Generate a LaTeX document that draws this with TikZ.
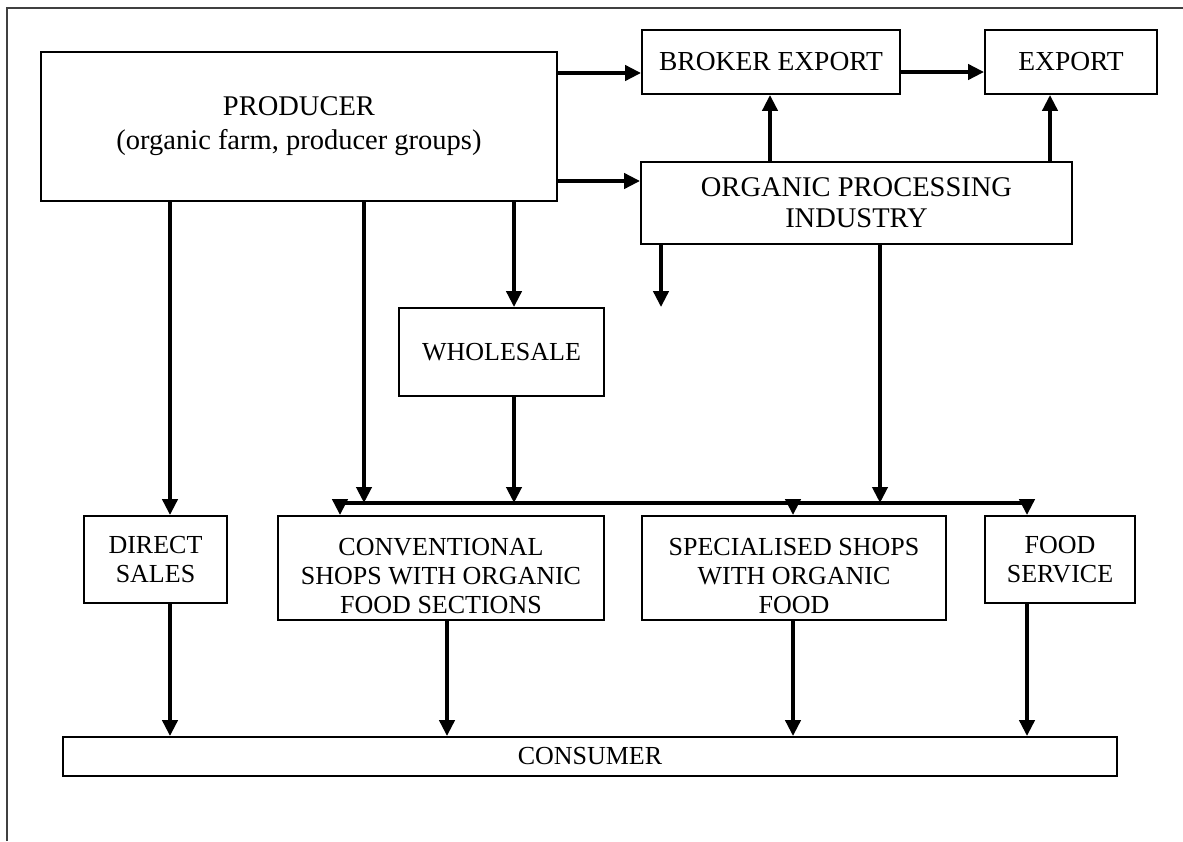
\documentclass[tikz,border=0pt]{standalone}
\usepackage{fontspec}
\setmainfont{Liberation Serif}
\usetikzlibrary{arrows.meta}
\begin{document}
\begin{tikzpicture}[x=1pt,y=-1pt,
  box/.style={draw,line width=1.8pt,inner sep=0pt,align=center,font=\fontsize{26}{29}\selectfont},
  big/.style={font=\fontsize{28.5}{34}\selectfont},
  mid/.style={font=\fontsize{27.5}{31}\selectfont},
  txt/.style={inner sep=0pt,align=center,font=\fontsize{26}{29}\selectfont},
  arr/.style={line width=4.6pt,-{Triangle[length=16pt,width=15pt]}},
  bus/.style={line width=4.6pt}]
\useasboundingbox (0,0) rectangle (1183,841);
\draw[line width=1.2pt,black!75] (7,841) -- (7,8) -- (1183,8);
\node[box,big,minimum width=516pt,minimum height=149pt] (prod) at (299,126.5) {PRODUCER\\(organic farm, producer groups)};
\node[box,mid,minimum width=258pt,minimum height=64pt] (broker) at (771,62) {BROKER EXPORT};
\node[box,mid,minimum width=172pt,minimum height=64pt] (export) at (1071,62) {EXPORT};
\node[box,font=\fontsize{28.5}{31}\selectfont,minimum width=431pt,minimum height=82pt] (proc) at (856.5,203) {ORGANIC PROCESSING\\INDUSTRY};
\node[box,minimum width=205pt,minimum height=88pt] (whole) at (501.5,352) {WHOLESALE};
\node[box,minimum width=143pt,minimum height=87pt] (direct) at (155.5,559.5) {DIRECT\\SALES};
\node[box,minimum width=326pt,minimum height=104pt] (conv) at (441,568) {};
\node[txt] (convt) at (441,576) {CONVENTIONAL\\SHOPS WITH ORGANIC\\FOOD SECTIONS};
\node[box,minimum width=304pt,minimum height=104pt] (spec) at (794,568) {};
\node[txt] (spect) at (794,576) {SPECIALISED SHOPS\\WITH ORGANIC\\FOOD};
\node[box,minimum width=150pt,minimum height=87pt] (food) at (1060,559.5) {FOOD\\SERVICE};
\node[box,minimum width=1054pt,minimum height=39pt] (cons) at (590,756.5) {CONSUMER};
% top flows
\draw[arr] (prod.east |- 0,73) -- (broker.west |- 0,73);
\draw[arr] (broker.east |- 0,72) -- (export.west |- 0,72);
\draw[arr] (prod.east |- 0,181) -- (proc.west |- 0,181);
\draw[arr] (proc.north -| 770,0) -- (broker.south -| 770,0);
\draw[arr] (proc.north -| 1050,0) -- (export.south -| 1050,0);
% to wholesale
\draw[arr] (prod.south -| 514,0) -- (whole.north -| 514,0);
\draw[arr] (proc.south -| 661,0) -- (whole.north -| 661,0);
% bus
\coordinate (busL) at (340,503);
\coordinate (busR) at (1027,503);
\draw[bus] (busL) -- (busR);
\draw[arr] (prod.south -| 170,0) -- (direct.north -| 170,0);
\draw[arr] (prod.south -| 364,0) -- (busL -| 364,0);
\draw[arr] (whole.south -| 514,0) -- (busL -| 514,0);
\draw[arr] (proc.south -| 880,0) -- (busL -| 880,0);
\draw[arr] ([yshift=2pt]busL) -- (busL |- conv.north);
\draw[arr] (busL -| 793,0) -- (spec.north -| 793,0);
\draw[arr] ([yshift=2pt]busR) -- (busR |- food.north);
% to consumer
\draw[arr] (direct.south -| 170,0) -- (cons.north -| 170,0);
\draw[arr] (conv.south -| 447,0) -- (cons.north -| 447,0);
\draw[arr] (spec.south -| 793,0) -- (cons.north -| 793,0);
\draw[arr] (food.south -| 1027,0) -- (cons.north -| 1027,0);
\end{tikzpicture}
\end{document}
